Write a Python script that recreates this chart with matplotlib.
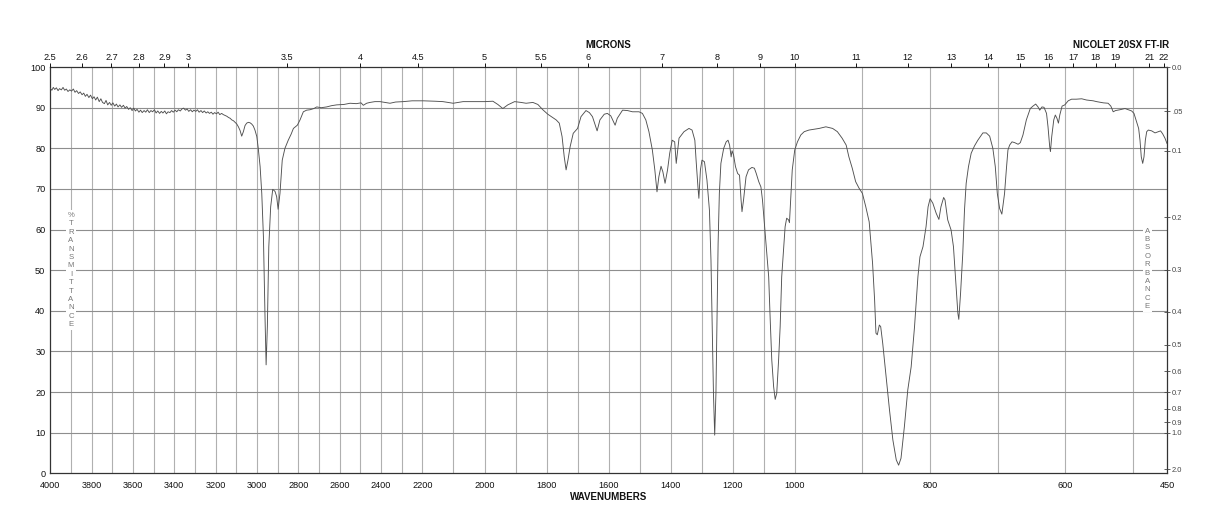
import numpy as np
import matplotlib
matplotlib.use('Agg')
import matplotlib.pyplot as plt

plt.rcParams['font.family'] = ['Liberation Sans', 'DejaVu Sans']

# ---------------- data ----------------
wn_a = [4000,3992,3985,3978,3970,3962,3955,3946,3938,3930,3922,3914,3905,3897,3888,3880,3872,3863,3855,3846,
        3838,3830,3822,3813,3805,3796,3788,3780,3772,3763,3755,3747,3738,3730,3722,3713,3705,3697,3688,3680,
        3672,3663,3655,3646,3638,3630,3621,3613,3604,3596,3588,3580,3571,3563,3555,3546,3538,3530,3521,3513,
        3505,3496,3488,3480,3471,3463,3455,3446,3438,3430,3421,3413,3405,3396,3388,3380,3371,3363,3355,3346,
        3338,3330,3321,3313,3305,3296,3288,3280,3271,3263,3255,3246,3238,3230,3221,3213,3205,3196,3188,3180,
        3171,3163,3155,3146,3138,3130,3122,3114,3106]
t_a = [94.8,94.3,95.0,94.5,94.9,94.2,94.7,94.4,95.0,94.3,94.6,94.0,94.4,94.1,94.6,93.8,94.2,93.5,93.9,93.2,
       93.6,92.8,93.3,92.5,93.1,92.2,92.7,91.9,92.6,91.5,92.2,91.3,91.0,91.8,90.7,91.3,90.6,91.2,90.4,90.9,
       90.2,90.7,90.1,90.6,89.9,90.3,89.6,90.0,89.3,89.9,89.2,89.6,88.9,89.4,88.8,89.3,88.9,89.5,88.8,89.3,
       89.0,89.5,88.7,89.2,88.6,89.1,88.7,89.2,88.5,89.0,88.8,89.3,88.9,89.4,89.0,89.5,89.2,89.7,89.9,89.4,
       89.7,89.1,89.5,89.0,89.4,89.1,89.5,88.9,89.3,88.8,89.2,88.7,89.0,88.6,88.9,88.4,88.8,88.5,88.9,88.3,
       88.6,88.3,88.1,87.9,87.6,87.4,87.0,86.8,86.4]

wn_b = [3098,3090,3082,3074,3066,3058,3050,3042,3034,3026,3018,3010,3001,2994,2985,2977,2969,2961,2956,2950,
        2943,2934,2924,2913,2905,2898,2889,2878,2865,2849,2835,2824,2805,2792,2776,2760,2744,2725,2711,2690,
        2663,2640,2615,2580,2550,2520,2497,2486,2470,2454,2430,2405,2380,2357,2330,2293,2250]
t_b = [86.0,85.3,84.4,83.0,84.1,85.6,86.2,86.4,86.3,86.0,85.5,84.5,82.9,80.0,75.5,68.9,58.2,37.7,26.7,36.1,
       55.8,65.6,69.9,69.4,68.1,65.0,68.9,77.1,80.0,82.0,83.5,84.9,85.7,87.0,89.0,89.4,89.5,89.8,90.2,90.0,
       90.2,90.5,90.7,90.8,91.1,91.0,91.2,90.6,91.1,91.3,91.5,91.5,91.3,91.1,91.4,91.5,91.7]

wn_c = [2198,2160,2134,2101,2069,2026,2000,1973,1957,1941,1925,1903,1882,1866,1844,1828,1812,1796,1769,1759,
        1750,1743,1737,1731,1724,1714,1700,1689,1673,1662,1652,1643,1637,1628,1614,1604,1593,1579,1572,1555,
        1539,1523,1502,1491,1480,1470,1459,1451,1444,1438,1431,1425,1418,1410,1403,1395,1387,1382,1373,1357,
        1341,1331,1322,1318,1312]
t_c = [91.7,91.6,91.5,91.1,91.5,91.5,91.5,91.6,90.8,89.8,90.7,91.5,91.3,91.1,91.3,90.8,89.5,88.4,87.0,86.2,
       82.9,77.9,74.7,77.1,80.4,83.7,84.9,87.8,89.3,88.8,87.8,85.7,84.3,87.0,88.4,88.6,88.0,85.7,87.4,89.4,
       89.3,89.0,89.0,88.6,87.0,84.1,79.6,74.7,69.3,73.0,75.6,74.2,71.4,74.7,78.8,82.0,81.6,76.3,82.5,84.1,
       84.9,84.5,82.0,77.1,70.5]

wn_d = [1309,1304,1299,1291,1283,1275,1270,1266,1262,1258,1254,1250,1247,1243,1238,1229,1221,1215,1210,1205,
        1202,1197,1191,1184,1178,1173,1170,1165,1157,1149,1138,1130,1124,1116,1109,1104,1097,1090,1084,1079,
        1074,1068,1063,1058,1052,1047,1042,1036,1031,1026,1020,1017,1013,1008]
t_d = [67.7,74.7,77.1,76.7,72.2,64.8,52.5,36.1,19.7,9.4,19.7,40.2,56.6,68.9,76.3,80.0,81.6,82.0,80.8,77.9,
       79.4,78.3,75.5,73.8,73.4,67.3,64.4,67.3,73.0,74.7,75.3,75.1,73.8,71.8,70.5,67.3,60.7,54.2,48.4,37.7,
       27.9,21.3,18.2,19.7,27.9,36.1,48.4,55.0,60.7,62.8,62.4,61.7,67.3,74.7]

wn_e = [1000,996,991,986,979,971,964,954,944,937,930,924,920,915,910,905,900,895,890,885,
        882,880,878,875,873,870,865,860,855,850,846.5,843,838,833,828,823,818,815,810.5,806,
        803,800,796,791,787,784,780,778,774,769,765.5,761.5,759,757.6,755,751.7,749.2,746.7,743.3,739.3,
        734.4,729.5,722,717,712,707.3,703.7,700.7,697.3,694,690,687.4,685,682.5,679,675,670,666.7,662.8,657.8,
        652,648,644,640.6,638,634.7,631.7,628,625.8,623.3,622.2,620.3,617.3,615,612.6,610.4,608.4,605,601,596,
        591,584,576,569,559,554,544,537,533,529.5,526,519.6,512,507.3,502.2,498.8,494.8,491.9,489.9,488,
        485.9,484,482,480,477.6,472.6,467.7,463,459.5,456.5,453,450]
t_e = [79.6,81.6,83.3,84.1,84.5,84.7,84.9,85.3,84.9,84.1,82.5,80.8,77.9,75.1,71.8,70.2,68.9,65.6,61.9,51.7,
       42.7,34.5,34.1,36.5,36.1,32.0,23.8,15.6,8.2,3.3,2.0,3.7,11.5,20.5,26.2,36.1,48.4,53.3,55.8,60.7,
       65.6,67.6,66.5,64.0,62.5,65.6,67.9,67.3,62.4,59.9,55.8,45.9,39.4,37.9,44.3,54.2,64.8,71.4,75.5,78.8,
       80.6,82.0,83.8,83.8,83.0,80.0,75.5,68.9,65.2,63.8,68.9,74.7,79.6,80.8,81.6,81.4,81.0,81.4,83.3,87.0,
       89.8,90.4,90.9,90.2,89.4,90.2,90.1,88.6,85.3,80.4,79.2,82.9,87.0,88.2,87.4,86.2,88.2,90.4,90.7,91.7,
       92.1,92.1,92.2,91.9,91.7,91.5,91.2,91.1,90.4,89.0,89.3,89.5,89.8,89.5,89.2,88.6,86.5,84.9,82.0,77.9,
       76.3,77.9,82.0,84.1,84.5,84.3,83.8,84.1,84.3,83.6,82.5,81.2]

wavenumber_ticks = [4000, 3800, 3600, 3400, 3200, 3000, 2800, 2600, 2400, 2200,
                    2000, 1800, 1600, 1400, 1200, 1000, 800, 600, 450]
transmittance_ticks = [0, 10, 20, 30, 40, 50, 60, 70, 80, 90, 100]
micron_ticks = [2.5, 2.6, 2.7, 2.8, 2.9, 3, 3.5, 4, 4.5, 5, 5.5, 6, 7, 8, 9, 10,
                11, 12, 13, 14, 15, 16, 17, 18, 19, 21, 22]
micron_labels = ['2.5', '2.6', '2.7', '2.8', '2.9', '3', '3.5', '4', '4.5', '5', '5.5', '6', '7',
                 '8', '9', '10', '11', '12', '13', '14', '15', '16', '17', '18', '19', '21', '22']
absorbance_ticks = [0.0, 0.05, 0.1, 0.2, 0.3, 0.4, 0.5, 0.6, 0.7, 0.8, 0.9, 1.0, 2.0]
absorbance_labels = ['0.0', '.05', '0.1', '0.2', '0.3', '0.4', '0.5', '0.6', '0.7',
                     '0.8', '0.9', '1.0', '2.0']
grid_wavenumbers = list(range(3900, 499, -100))

for a, b in [(wn_a, t_a), (wn_b, t_b), (wn_c, t_c), (wn_d, t_d), (wn_e, t_e)]:
    assert len(a) == len(b), (len(a), len(b))

wavenumber = np.array(wn_a + wn_b + wn_c + wn_d + wn_e, dtype=float)
transmittance = np.array(t_a + t_b + t_c + t_d + t_e, dtype=float)

# ---------------- piecewise-linear wavenumber scale (3 equal panels) ----------------
BRK_WN = [450.0, 1000.0, 2200.0, 4000.0]
BRK_U = [0.0, 1.0, 2.0, 3.0]


def fwd(w):
    return np.interp(np.asarray(w, dtype=float), BRK_WN, BRK_U)


def inv(u):
    return np.interp(np.asarray(u, dtype=float), BRK_U, BRK_WN)


# ---------------- figure ----------------
W, H = 1218, 528
fig = plt.figure(figsize=(W / 100, H / 100), dpi=100)
L, R, T, B = 50.2, 1167.0, 67.1, 473.3
ax = fig.add_axes([L / W, (H - B) / H, (R - L) / W, (B - T) / H])

ax.set_xscale('function', functions=(fwd, inv))
ax.set_xlim(4000, 450)
ax.set_ylim(0, 100)

hgrid = '#8e8e8e'
vgrid = '#b0b0b0'
for g in grid_wavenumbers:
    ax.axvline(g, color=vgrid, lw=0.8, zorder=1)
for g in transmittance_ticks[1:-1]:
    ax.axhline(g, color=hgrid, lw=0.8, zorder=1)

ax.plot(wavenumber, transmittance, color='#505050', lw=0.65, zorder=3)

ax.set_xticks(wavenumber_ticks)
ax.set_xticklabels([str(v) for v in wavenumber_ticks])
ax.xaxis.set_minor_locator(matplotlib.ticker.NullLocator())
ax.set_yticks(transmittance_ticks)
ax.set_yticklabels([str(v) for v in transmittance_ticks])
ax.tick_params(axis='x', length=0, pad=5.5, labelsize=6.6, colors='#111111')
ax.tick_params(axis='y', length=0, pad=3.5, labelsize=6.6, colors='#111111')
for s in ax.spines.values():
    s.set_color('#333333')
    s.set_linewidth(0.9)

# top micron axis
axt = ax.twiny()
axt.set_xscale('function', functions=(fwd, inv))
axt.set_xlim(4000, 450)
axt.set_xticks([10000.0 / m for m in micron_ticks])
axt.set_xticklabels(micron_labels)
axt.xaxis.set_minor_locator(matplotlib.ticker.NullLocator())
axt.tick_params(axis='x', direction='out', length=2.6, width=0.7, pad=1.2,
                labelsize=6.6, colors='#111111')
for s in axt.spines.values():
    s.set_visible(False)

# right absorbance axis
axr = ax.twinx()
axr.set_ylim(0, 100)
axr.set_yticks([100.0 * 10 ** (-a) for a in absorbance_ticks])
axr.set_yticklabels(absorbance_labels)
axr.yaxis.set_minor_locator(matplotlib.ticker.NullLocator())
axr.tick_params(axis='y', direction='inout', length=4.0, width=0.6, pad=1.5,
                labelsize=5.4, colors='#444444')
for s in axr.spines.values():
    s.set_visible(False)

# stacked axis captions
ax.text(3900, 50.0, '\n'.join('%TRANSMITTANCE'), ha='center', va='center', fontsize=5.6,
        color='#777777', linespacing=1.28, zorder=4,
        bbox=dict(facecolor='white', edgecolor='none', pad=1.2))
ax.text(479, 50.3, '\n'.join('ABSORBANCE'), ha='center', va='center', fontsize=5.6,
        color='#777777', linespacing=1.28, zorder=4,
        bbox=dict(facecolor='white', edgecolor='none', pad=1.2))

fig.text(608.5 / W, 1 - 44.5 / H, 'MICRONS', ha='center', va='center', fontsize=7.0,
         fontweight='bold', color='#111111')
fig.text(1121 / W, 1 - 44.5 / H, 'NICOLET 20SX FT-IR', ha='center', va='center', fontsize=7.0,
         fontweight='bold', color='#111111')
fig.text(608.5 / W, 1 - 496.5 / H, 'WAVENUMBERS', ha='center', va='center', fontsize=7.0,
         fontweight='bold', color='#111111')

fig.savefig('out.png', dpi=100, facecolor='white')
